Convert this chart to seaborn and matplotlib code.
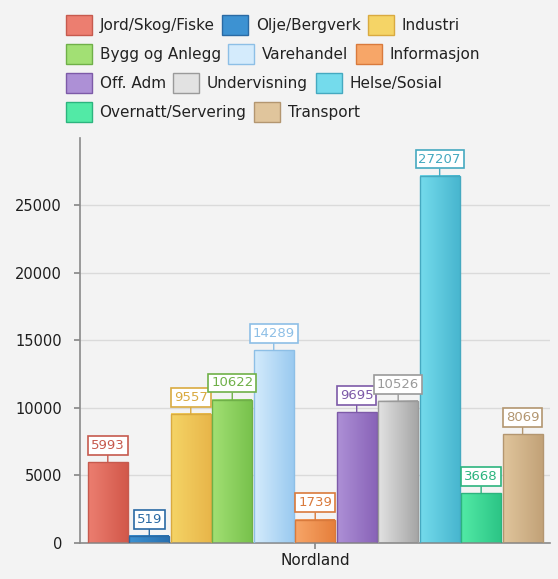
import numpy as np
import pandas as pd
import seaborn as sns
import matplotlib.pyplot as plt
from matplotlib.colors import LinearSegmentedColormap
from matplotlib.patches import Patch

# Data
region = "Nordland"
sectors = ["Jord/Skog/Fiske", "Olje/Bergverk", "Industri", "Bygg og Anlegg",
           "Varehandel", "Informasjon", "Off. Adm", "Undervisning",
           "Helse/Sosial", "Overnatt/Servering", "Transport"]
employed = [5993, 519, 9557, 10622, 14289, 1739, 9695, 10526, 27207, 3668, 8069]

# (light, dark) gradient colours per sector
light = ["#ec7e70", "#3d92d2", "#f5d466", "#a2e074", "#d4ebfc", "#f7a668",
         "#ad90d6", "#e2e2e2", "#74dbec", "#52eaa6", "#e0c59c"]
dark = ["#d2584a", "#2870b0", "#e8b64a", "#78c24c", "#9acaf0", "#e67f3c",
        "#8963b8", "#a6a6a6", "#48b6cf", "#2cc586", "#c2a278"]
edge = ["#c65a4e", "#2a6aa4", "#d9aa40", "#6fb048", "#8dbfe6", "#d97a3c",
        "#7d5aa8", "#9a9a9a", "#45a9c0", "#2cb47e", "#b39670"]

df = pd.DataFrame({"region": [region] * len(sectors),
                   "sector": sectors, "value": employed})

sns.set_theme(style="white")
plt.rcParams["font.family"] = ["DejaVu Sans"]
bg = "#f3f3f3"

fig = plt.figure(figsize=(5.58, 5.79), dpi=100, facecolor=bg)
ax = fig.add_axes([0.1434, 0.0622, 0.843, 0.6995])
ax.set_facecolor(bg)

sns.barplot(data=df, x="region", y="value", hue="sector", hue_order=sectors,
            palette=dict(zip(sectors, light)), width=0.97, gap=0.04,
            legend=False, ax=ax)

ax.set_yticks([0, 5000, 10000, 15000, 20000, 25000])
ax.yaxis.grid(True, color="#dadada", linewidth=1)
ax.set_axisbelow(True)

bars = [p for p in ax.patches if p.get_height() > 0][:len(sectors)]
for p, lo, hi, ec, val in zip(bars, light, dark, edge, employed):
    x0, w, h = p.get_x(), p.get_width(), p.get_height()
    cmap = LinearSegmentedColormap.from_list("g", [lo, hi])
    ax.imshow(np.linspace(0, 1, 64).reshape(1, -1), cmap=cmap, aspect="auto",
              extent=[x0, x0 + w, 0, h], zorder=2, interpolation="bilinear")
    p.set_facecolor("none")
    p.set_edgecolor(ec)
    p.set_linewidth(1)
    p.set_zorder(3)
    ax.annotate(f"{val}", xy=(x0 + w / 2, h), xytext=(0, 12),
                textcoords="offset points", ha="center", va="center",
                fontsize=9.5, color=ec, zorder=5,
                bbox=dict(boxstyle="square,pad=0.22", fc="white", ec=ec, lw=1.2),
                arrowprops=dict(arrowstyle="-", color=ec, lw=1,
                                shrinkA=0, shrinkB=0))

ax.set_xlim(-0.5, 0.5)
ax.set_ylim(0, 30000)
ax.set_xlabel("")
ax.set_ylabel("")
for s in ["top", "right"]:
    ax.spines[s].set_visible(False)
for s in ["left", "bottom"]:
    ax.spines[s].set_color("#8a8a8a")
    ax.spines[s].set_linewidth(1.2)
ax.tick_params(axis="both", length=4, color="#8a8a8a", labelsize=10.5,
               labelcolor="#1e1e1e", left=True, bottom=True)
ax.tick_params(axis="y", pad=9)
ax.tick_params(axis="x", labelsize=11)

# Legend, drawn row by row
rows = [[0, 1, 2], [3, 4, 5], [6, 7, 8], [9, 10]]
row_y = [25, 54, 83, 112]
for idx, yy in zip(rows, row_y):
    handles = [Patch(facecolor=light[i], edgecolor=edge[i]) for i in idx]
    labels = [sectors[i] for i in idx]
    fig.legend(handles, labels, loc="center left", ncol=len(idx),
               bbox_to_anchor=(66 / 558, 1 - yy / 579), frameon=False,
               fontsize=11, handlelength=1.7, handleheight=1.7,
               handletextpad=0.5, columnspacing=0.5, borderpad=0,
               borderaxespad=0, labelcolor="#222222")

fig.savefig("out.png", dpi=100, facecolor=bg)
